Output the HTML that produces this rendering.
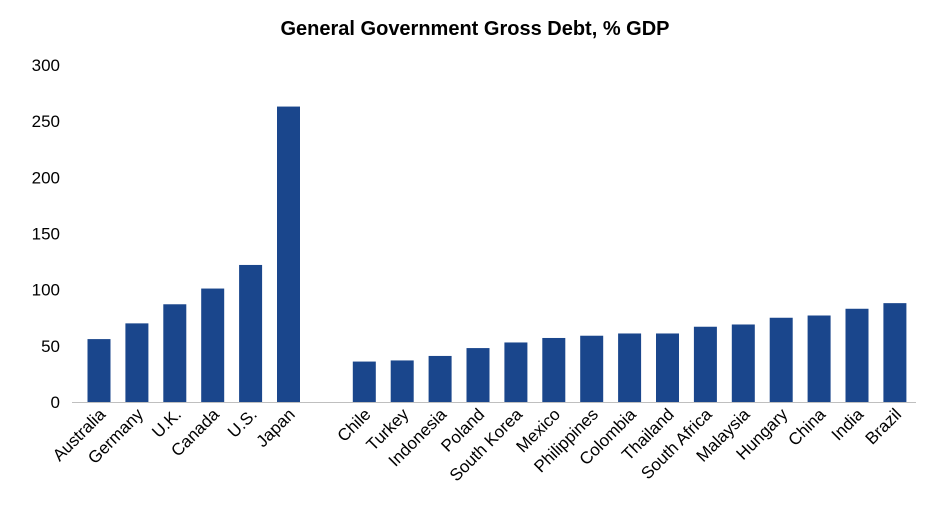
<!DOCTYPE html>
<html><head><meta charset="utf-8">
<style>
html,body{margin:0;padding:0;background:#fff;}
svg{display:block;font-family:"Liberation Sans",sans-serif;}
</style></head>
<body>
<svg id="chart" width="949" height="526" viewBox="0 0 949 526" xmlns="http://www.w3.org/2000/svg">
<text x="475" y="35" text-anchor="middle" font-size="20" font-weight="bold" fill="#000">General Government Gross Debt, % GDP</text>
<g id="yaxis"></g>
<g id="bars"></g>
<g id="xlabels"></g>
<line x1="72" x2="916" y1="402.5" y2="402.5" stroke="#bfbfbf" stroke-width="1"/>
</svg>
<script>
const categories = ["Australia","Germany","U.K.","Canada","U.S.","Japan","","Chile","Turkey","Indonesia","Poland","South Korea","Mexico","Philippines","Colombia","Thailand","South Africa","Malaysia","Hungary","China","India","Brazil"];
const values = [56,70,87,101,122,263,null,36,37,41,48,53,57,59,61,61,67,69,75,77,83,88];
const yTicks = [0,50,100,150,200,250,300];

const NS="http://www.w3.org/2000/svg";
const y0=402, y300=65;
function yScale(v){return y0-(v/300)*(y0-y300);}
function xScale(i){return 99+i*37.9;}
const bw=23;

const ya=document.getElementById('yaxis');
yTicks.forEach(t=>{
  const tx=document.createElementNS(NS,'text');
  
  
  tx.setAttribute('x',60);tx.setAttribute('y',yScale(t)+6);
  tx.setAttribute('text-anchor','end');tx.setAttribute('font-size','17');
  tx.textContent=t;ya.appendChild(tx);
});
const bg=document.getElementById('bars'), xl=document.getElementById('xlabels');
categories.forEach((c,i)=>{
  const v=values[i];
  if(v===null||c==="") return;
  const r=document.createElementNS(NS,'rect');
  
  
  r.setAttribute('x',xScale(i)-bw/2);r.setAttribute('y',yScale(v));
  r.setAttribute('width',bw);r.setAttribute('height',y0-yScale(v));
  r.setAttribute('fill','#1a468c');bg.appendChild(r);
  const t=document.createElementNS(NS,'text');
  
  
  const lx=xScale(i)+2, ly=410;
  t.setAttribute('x',lx);t.setAttribute('y',ly);
  t.setAttribute('text-anchor','end');t.setAttribute('font-size','17');
  t.setAttribute('transform','rotate(-45 '+lx+' '+ly+')');
  t.setAttribute('dy','0.45em');
  t.textContent=c;xl.appendChild(t);
});
</script>
</body></html>
